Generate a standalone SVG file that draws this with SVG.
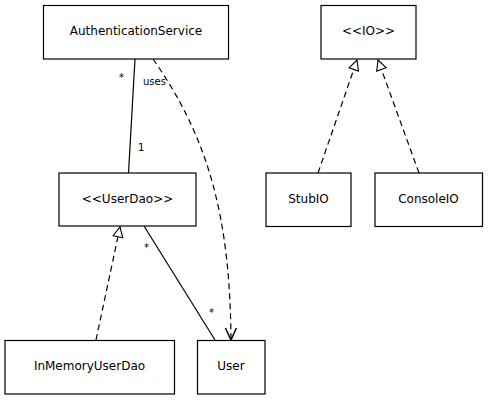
<svg xmlns="http://www.w3.org/2000/svg" width="488" height="400" viewBox="0 0 488 400">
  <style>
    .box { fill: #ffffff; stroke: #000000; stroke-width: 1.2; }
    .name { font-family: "DejaVu Sans", sans-serif; font-size: 12px; fill: #000000; text-anchor: middle; }
    .lbl { font-family: "DejaVu Sans", sans-serif; font-size: 10px; fill: #000000; }
    .assoc { fill: none; stroke: #000000; stroke-width: 1.2; }
    .dash { fill: none; stroke: #000000; stroke-width: 1.2; stroke-dasharray: 6 4; }
  </style>
  <defs>
    <marker id="realize" viewBox="0 0 12 12" refX="11" refY="6" markerWidth="12" markerHeight="12" markerUnits="userSpaceOnUse" orient="auto">
      <path d="M1,1 L11,6 L1,11 Z" fill="#ffffff" stroke="#000000" stroke-width="1.1"/>
    </marker>
    <marker id="open" viewBox="0 0 14 14" refX="13" refY="7" markerWidth="14" markerHeight="14" markerUnits="userSpaceOnUse" orient="auto">
      <path d="M1,1.5 L13,7 L1,12.5" fill="none" stroke="#000000" stroke-width="1.5"/>
    </marker>
  </defs>

  <g id="connectors">
    <!-- AuthenticationService * —— 1 UserDao -->
    <line class="assoc" x1="135" y1="59" x2="128.5" y2="173"/>
    <text class="lbl" x="119" y="81">*</text>
    <text class="lbl" x="138" y="151">1</text>
    <!-- AuthenticationService uses User -->
    <path class="dash" d="M153,59 C210,140 230,220 231,340" marker-end="url(#open)"/>
    <text class="lbl" x="143" y="85">uses</text>
    <!-- UserDao * —— * User -->
    <line class="assoc" x1="144" y1="226" x2="215" y2="340"/>
    <text class="lbl" x="144" y="251">*</text>
    <text class="lbl" x="209" y="316">*</text>
    <!-- InMemoryUserDao realizes UserDao -->
    <line class="dash" x1="96" y1="340" x2="120" y2="227" marker-end="url(#realize)"/>
    <!-- StubIO and ConsoleIO realize IO -->
    <line class="dash" x1="318" y1="173" x2="357" y2="60" marker-end="url(#realize)"/>
    <line class="dash" x1="419" y1="173" x2="378" y2="60" marker-end="url(#realize)"/>
  </g>

  <g id="AuthenticationService">
    <rect class="box" x="43.5" y="5.5" width="185" height="53.5"/>
    <text class="name" x="136" y="35">AuthenticationService</text>
  </g>
  <g id="IO">
    <rect class="box" x="321" y="5.5" width="95" height="53.5"/>
    <text class="name" x="368.5" y="35">&lt;&lt;IO&gt;&gt;</text>
  </g>
  <g id="UserDao">
    <rect class="box" x="59" y="173" width="137" height="53"/>
    <text class="name" x="127.5" y="203">&lt;&lt;UserDao&gt;&gt;</text>
  </g>
  <g id="StubIO">
    <rect class="box" x="266" y="173" width="85" height="53.5"/>
    <text class="name" x="308.5" y="203">StubIO</text>
  </g>
  <g id="ConsoleIO">
    <rect class="box" x="375" y="173" width="107.5" height="53.5"/>
    <text class="name" x="428.5" y="203">ConsoleIO</text>
  </g>
  <g id="InMemoryUserDao">
    <rect class="box" x="5" y="340.5" width="169.5" height="53.5"/>
    <text class="name" x="89.5" y="370">InMemoryUserDao</text>
  </g>
  <g id="User">
    <rect class="box" x="197.5" y="340.5" width="67.5" height="53.5"/>
    <text class="name" x="231" y="370">User</text>
  </g>
</svg>
